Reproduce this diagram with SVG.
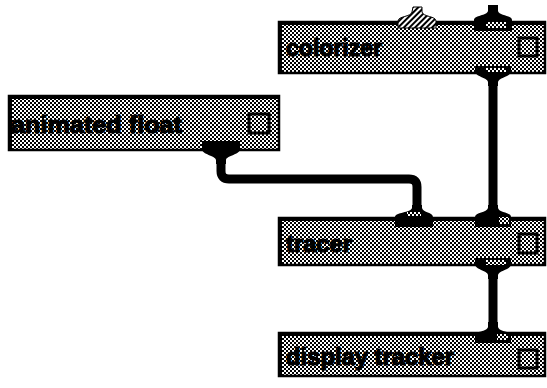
<svg xmlns="http://www.w3.org/2000/svg" width="547" height="388" viewBox="0 0 547 388">
<defs>
<pattern id="stip" width="4" height="4" patternUnits="userSpaceOnUse">
<rect width="4" height="4" fill="#fff"/>
<rect x="0" y="0" width="2" height="2" fill="#000"/>
<rect x="2" y="2" width="2" height="2" fill="#000"/>
</pattern>
<pattern id="hatch" width="4" height="4" patternUnits="userSpaceOnUse" patternTransform="rotate(45)">
<rect width="4" height="4" fill="#fff"/>
<rect width="2" height="4" fill="#000"/>
</pattern>
</defs>
<style>
.box{fill:url(#stip);stroke:#000;stroke-width:2.5}
.edge{fill:none;stroke:#000;stroke-width:4}
.cb{fill:url(#stip);stroke:#000;stroke-width:3}
.lbl{font-family:"Liberation Sans",Arial,sans-serif;font-weight:bold;font-size:24px;fill:#000;stroke:#000;stroke-width:1.2;stroke-linejoin:round}
.port{fill:#000}
.pin{fill:url(#stip)}
.hport{fill:url(#hatch);stroke:#000;stroke-width:1}
.wire{fill:none;stroke:#000;stroke-width:9;stroke-linejoin:round}
</style>
<rect width="547" height="388" fill="#fff"/>

<g id="connectors">
<path class="wire" d="M493,78 V212"/>
<path class="wire" d="M493,272 V330"/>
<path class="wire" d="M221,156 V171 Q221,179 229,179 H409 Q417,179 417,187 V210"/>
</g>

<g id="colorizer">
<rect class="box" x="279" y="22" width="266" height="51"/>
<path class="edge" d="M280,73 V23 H545"/>
<rect class="cb" x="519" y="38" width="18" height="18"/>
<text class="lbl" x="286" y="56" textLength="96" lengthAdjust="spacingAndGlyphs">colorizer</text>
<path class="hport" d="M413,7 H422 V12 C423,17 436,16 436,21 V28 H398 V21 C398,16 411,17 412,12 Z"/>
<path class="port" d="M488,5 H498 V11 C499,16 512,15 512,20 V31 H474 V20 C474,15 487,16 488,11 Z"/>
<rect class="pin" x="486" y="22" width="20" height="6"/>
<path class="port" d="M475,66 H511 V71 C511,77 499,77 498,82 V86 H488 V82 C487,77 475,77 475,71 Z"/>
<rect class="pin" x="486" y="68" width="20" height="4"/>
</g>

<g id="animated-float">
<rect class="box" x="9" y="96" width="270" height="54"/>
<path class="edge" d="M10,150 V97 H279"/>
<rect class="cb" x="249" y="114" width="20" height="19"/>
<text class="lbl" x="11" y="133" textLength="171" lengthAdjust="spacingAndGlyphs">animated float</text>
<path class="port" d="M202,141 H240 V149 C240,155 227,155 226,160 V164 H216 V160 C215,155 202,155 202,149 Z"/>
</g>

<g id="tracer">
<rect class="box" x="279" y="218" width="266" height="47"/>
<path class="edge" d="M280,265 V219 H545"/>
<rect class="cb" x="519" y="234" width="18" height="19"/>
<text class="lbl" x="286" y="252" textLength="66" lengthAdjust="spacingAndGlyphs">tracer</text>
<path class="port" d="M412,205 H422 V208 C423,213 433,212 433,217 V227 H395 V217 C395,212 411,213 412,208 Z"/>
<rect class="pin" x="407" y="212" width="14" height="4"/>
<path class="port" d="M488,205 H498 V208 C499,213 511,212 511,217 V227 H475 V217 C475,212 487,213 488,208 Z"/>
<rect class="pin" x="499" y="217" width="10" height="7"/>
<path class="port" d="M475,258 H511 V264 C511,270 499,270 498,275 V279 H488 V275 C487,270 475,270 475,264 Z"/>
<rect class="pin" x="486" y="260" width="20" height="5"/>
</g>

<g id="display-tracker">
<rect class="box" x="279" y="333" width="266" height="43"/>
<path class="edge" d="M280,376 V334 H545"/>
<rect class="cb" x="519" y="350" width="18" height="18"/>
<text class="lbl" x="286" y="365" textLength="168" lengthAdjust="spacingAndGlyphs">display tracker</text>
<path class="port" d="M488,322 H498 V327 C499,332 511,331 511,335 V343 H475 V335 C475,331 487,332 488,327 Z"/>
<rect class="pin" x="497" y="334" width="11" height="6"/>
</g>
</svg>
